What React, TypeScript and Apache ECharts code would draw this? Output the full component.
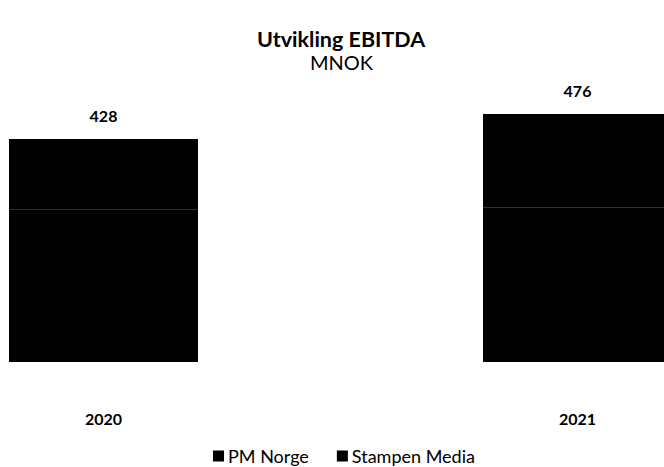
import React, { useEffect, useRef } from "react";
import * as echarts from "echarts";

const categories = ["2020", "2021"];
const pmNorge = [292, 296];
const stampenMedia = [136, 180];
const totals = [428, 476];

export default function App() {
  const ref = useRef<HTMLDivElement>(null);
  useEffect(() => {
    if (!ref.current) return;
    const chart = echarts.init(ref.current, null, { renderer: "svg" });
    const font = "Lato, 'Open Sans', sans-serif";
    chart.setOption({
      animation: false,
      backgroundColor: "#ffffff",
      title: [
        {
          text: "Utvikling EBITDA",
          left: 252,
          top: 23,
          textStyle: { fontFamily: font, fontSize: 21.5, fontWeight: "bold", color: "#000" },
        },
        {
          text: "MNOK",
          left: 305,
          top: 47,
          textStyle: { fontFamily: font, fontSize: 20, fontWeight: "normal", color: "#000" },
        },
      ],
      legend: {
        top: 442,
        left: 208,
        icon: "rect",
        itemWidth: 11,
        itemHeight: 11,
        itemGap: 28,
        textStyle: { fontFamily: font, fontSize: 18, color: "#000", padding: [0, 0, 0, -1] },
        data: ["PM Norge", "Stampen Media"],
      },
      grid: { left: 103.5, width: 474, top: 49.4, height: 312.6 },
      xAxis: {
        type: "category",
        data: categories,
        boundaryGap: false,
        axisLine: { show: false },
        axisTick: { show: false },
        axisLabel: { margin: 48, fontFamily: font, fontSize: 16, fontWeight: "bold", color: "#000" },
      },
      yAxis: {
        type: "value",
        min: 0,
        max: 600,
        show: false,
        splitLine: { show: false },
      },
      series: [
        {
          name: "PM Norge",
          type: "bar",
          stack: "total",
          barWidth: 189,
          data: pmNorge,
          itemStyle: { color: "#000000" },
        },
        {
          name: "Stampen Media",
          type: "bar",
          stack: "total",
          barWidth: 189,
          data: stampenMedia,
          itemStyle: { color: "#000000" },
          label: {
            show: true,
            position: "top",
            distance: 16,
            fontFamily: font,
            fontSize: 16,
            fontWeight: "bold",
            color: "#000",
            formatter: (p: any) => String(totals[p.dataIndex]),
          },
        },
      ],
    });
    return () => chart.dispose();
  }, []);
  return (
    <div
      ref={ref}
      style={{ position: "absolute", left: 0, top: 0, width: 664, height: 467 }}
    />
  );
}
